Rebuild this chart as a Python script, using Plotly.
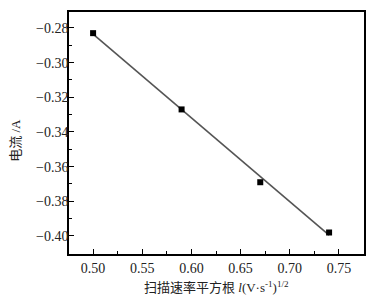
import plotly.graph_objects as go

x_vals = [0.50, 0.59, 0.67, 0.74]
y_vals = [-0.283, -0.327, -0.369, -0.398]
fit_x = [0.50, 0.74]
fit_y = [-0.2835, -0.3995]

fig = go.Figure()
fig.add_trace(go.Scatter(x=fit_x, y=fit_y, mode="lines",
                         line=dict(color="#555555", width=1.6), showlegend=False))
fig.add_trace(go.Scatter(x=x_vals, y=y_vals, mode="markers",
                         marker=dict(symbol="square", size=6, color="black"), showlegend=False))

serif = "Liberation Serif"
tickfont = dict(family=serif, size=14, color="#222")
titlefont = dict(family="Liberation Serif, Noto Sans CJK SC", size=13, color="#222")
fig.update_layout(
    width=385, height=297,
    margin=dict(l=69, r=21, t=12, b=43, autoexpand=False),
    plot_bgcolor="white", paper_bgcolor="white",
    font=dict(family=serif),
    xaxis=dict(range=[0.4755, 0.7755], tickvals=[0.50, 0.55, 0.60, 0.65, 0.70, 0.75],
               ticktext=["0.50", "0.55", "0.60", "0.65", "0.70", "0.75"],
               ticks="inside", ticklen=5, tickwidth=1.2, tickcolor="black",
               minor=dict(dtick=0.025, tick0=0.5, ticks="inside", ticklen=3, tickcolor="black"),
               showline=True, linecolor="black", linewidth=1.5, mirror=True,
               showgrid=False, zeroline=False, tickfont=tickfont, automargin=False),
    yaxis=dict(range=[-0.4104, -0.2708], tickvals=[-0.28, -0.30, -0.32, -0.34, -0.36, -0.38, -0.40],
               ticktext=["−0.28", "−0.30", "−0.32", "−0.34", "−0.36", "−0.38", "−0.40"],
               ticks="inside", ticklen=5, tickwidth=1.2, tickcolor="black",
               minor=dict(dtick=0.01, tick0=-0.28, ticks="inside", ticklen=3, tickcolor="black"),
               showline=True, linecolor="black", linewidth=1.5, mirror=True,
               showgrid=False, zeroline=False, tickfont=tickfont, automargin=False,
               ticklabelstandoff=-4),
    annotations=[
        dict(text="扫描速率平方根 <i>l</i>(V·s<sup>-1</sup>)<sup>1/2</sup>", font=titlefont,
             xref="paper", yref="paper", x=0.5, y=-0.136, xanchor="center", yanchor="middle",
             showarrow=False),
        dict(text="电流 /A", font=titlefont, textangle=-90,
             xref="paper", yref="paper", x=-0.181, y=0.47, xanchor="center", yanchor="middle",
             showarrow=False),
    ],
)
fig.write_html("out.html", config={"displayModeBar": False},
               post_script="document.body.style.margin='0';document.body.style.overflow='hidden';")
